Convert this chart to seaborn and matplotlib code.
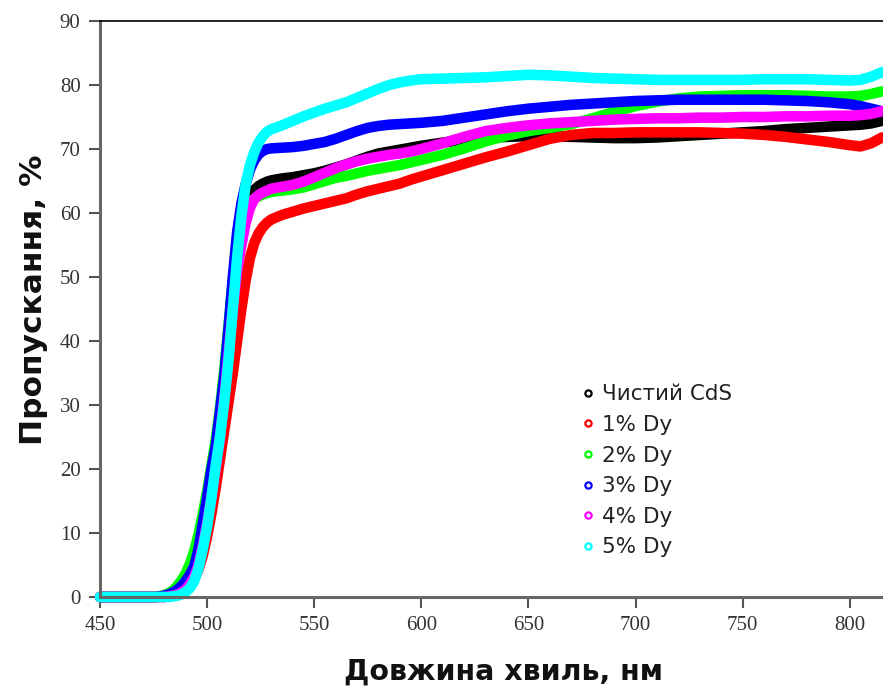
import numpy as np
import pandas as pd
import matplotlib
matplotlib.use("Agg")
import matplotlib.pyplot as plt
from matplotlib.lines import Line2D
import seaborn as sns

# ---------------- data ----------------
wavelength = [450, 460, 470, 476,
              480, 482, 484, 486, 488, 490, 492, 494, 496, 498, 500, 502, 504, 506, 508, 510,
              512, 514, 516, 518, 520, 522, 524, 526, 528, 530,
              535, 540, 545, 550, 555, 560, 565, 570, 575, 580, 585, 590, 595, 600,
              610, 620, 630, 640, 650, 660, 670, 680, 690, 700, 710, 720, 730, 740, 750,
              760, 770, 780, 790, 800, 805, 810, 815]

series_names = ["Чистий CdS", "1% Dy", "2% Dy", "3% Dy", "4% Dy", "5% Dy"]

t_pure = [0, 0, 0, 0,
          0.2, 0.4, 0.7, 1.2, 1.9, 2.8, 4.0, 5.8, 8.3, 11.5, 15.0, 19.0, 23.0, 28.0, 34.0, 41.0,
          48.5, 54.5, 58.5, 61.0, 62.6, 63.6, 64.2, 64.6, 64.9, 65.1,
          65.4, 65.6, 65.9, 66.2, 66.6, 67.1, 67.6, 68.2, 68.8, 69.3, 69.6, 69.9, 70.2, 70.5,
          71.0, 71.4, 71.7, 71.9, 72.0, 72.0, 71.9, 71.8, 71.7, 71.7, 71.8, 72.0, 72.2, 72.4, 72.6,
          72.8, 73.1, 73.3, 73.5, 73.7, 73.8, 74.0, 74.4]

t_dy1 = [0, 0, 0, 0,
         0.0, 0.1, 0.2, 0.4, 0.7, 1.1, 1.8, 2.8, 4.3, 6.5, 9.5, 13.0, 17.0, 21.5, 26.0, 30.5,
         35.0, 40.0, 45.0, 49.5, 53.0, 55.3, 56.8, 57.8, 58.5, 59.0,
         59.7, 60.2, 60.7, 61.1, 61.5, 61.9, 62.3, 62.9, 63.4, 63.8, 64.2, 64.6, 65.2, 65.7,
         66.7, 67.7, 68.7, 69.6, 70.6, 71.6, 72.2, 72.5, 72.5, 72.6, 72.6, 72.6, 72.6, 72.5, 72.4,
         72.2, 71.9, 71.5, 71.1, 70.6, 70.4, 70.9, 71.8]

t_dy2 = [0, 0, 0, 0,
         0.3, 0.6, 1.0, 1.7, 2.6, 3.7, 5.2, 7.2, 9.8, 13.0, 16.5, 20.5, 24.5, 29.5, 35.5, 42.5,
         49.5, 55.0, 58.5, 60.5, 61.6, 62.2, 62.6, 62.9, 63.1, 63.3,
         63.5, 63.7, 64.0, 64.5, 65.0, 65.5, 65.8, 66.2, 66.6, 66.9, 67.2, 67.5, 67.9, 68.3,
         69.1, 70.1, 71.2, 72.1, 72.8, 73.3, 73.9, 74.8, 75.8, 76.7, 77.4, 77.9, 78.2, 78.3, 78.4,
         78.4, 78.4, 78.3, 78.2, 78.2, 78.3, 78.6, 79.0]

t_dy3 = [0, 0, 0, 0,
         0.2, 0.4, 0.7, 1.1, 1.7, 2.5, 3.5, 4.8, 7.5, 11.5, 15.5, 20.0, 23.5, 29.0, 34.5, 42.0,
         50.0, 57.0, 61.5, 64.5, 66.8, 68.2, 69.2, 69.7, 70.0, 70.1,
         70.2, 70.3, 70.5, 70.8, 71.1, 71.6, 72.2, 72.8, 73.3, 73.6, 73.8, 73.9, 74.0, 74.1,
         74.4, 74.9, 75.4, 75.9, 76.3, 76.6, 76.9, 77.1, 77.3, 77.5, 77.6, 77.7, 77.7, 77.7, 77.7,
         77.7, 77.6, 77.5, 77.3, 77.0, 76.7, 76.3, 75.9]

t_dy4 = [0, 0, 0, 0,
         0.0, 0.1, 0.2, 0.4, 0.7, 1.2, 2.0, 3.2, 5.0, 8.0, 11.5, 15.5, 20.0, 25.0, 31.0, 38.0,
         45.0, 51.0, 55.0, 58.5, 60.8, 62.2, 62.8, 63.2, 63.5, 63.8,
         64.1, 64.4, 64.9, 65.6, 66.3, 67.0, 67.6, 68.1, 68.5, 68.8, 69.1, 69.3, 69.6, 70.0,
         70.9, 71.9, 72.8, 73.3, 73.7, 74.0, 74.2, 74.4, 74.6, 74.7, 74.8, 74.8, 74.9, 74.9, 75.0,
         75.0, 75.1, 75.1, 75.2, 75.2, 75.3, 75.5, 75.9]

t_dy5 = [0, 0, 0, 0,
         0.0, 0.0, 0.1, 0.2, 0.4, 0.8, 1.4, 2.5, 4.5, 7.5, 11.0, 15.5, 20.5, 25.0, 30.5, 37.0,
         45.0, 53.0, 59.5, 64.5, 67.5, 69.5, 71.0, 72.0, 72.7, 73.1,
         73.7, 74.4, 75.1, 75.7, 76.3, 76.8, 77.3, 78.0, 78.7, 79.4, 80.0, 80.4, 80.7, 80.9,
         81.0, 81.1, 81.2, 81.4, 81.6, 81.5, 81.3, 81.1, 81.0, 80.9, 80.8, 80.8, 80.8, 80.8, 80.8,
         80.9, 80.9, 80.9, 80.8, 80.7, 80.8, 81.3, 82.0]

series_values = [t_pure, t_dy1, t_dy2, t_dy3, t_dy4, t_dy5]
colors = ["#000000", "#FF0000", "#00FF00", "#0000FF", "#FF00FF", "#00FFFF"]

x_ticks = [450, 500, 550, 600, 650, 700, 750, 800]
y_ticks = [0, 10, 20, 30, 40, 50, 60, 70, 80, 90]

# ---------------- figure ----------------
sns.set_theme(style="ticks")
plt.rcParams["font.family"] = ["DejaVu Sans"]

df = pd.concat(
    [pd.DataFrame({"wl": wavelength, "T": vals, "series": name})
     for name, vals in zip(series_names, series_values)],
    ignore_index=True)

fig = plt.figure(figsize=(8.83, 6.9), dpi=100)
ax = fig.add_axes([100 / 883, 93 / 690, 783 / 883, 576 / 690])

sns.lineplot(data=df, x="wl", y="T", hue="series", hue_order=series_names,
             palette=dict(zip(series_names, colors)), estimator=None, sort=False,
             linewidth=7.6, legend=False, ax=ax)
for ln in ax.get_lines():
    ln.set_solid_capstyle("round")
    ln.set_solid_joinstyle("round")
    ln.set_clip_on(False)

ax.set_xlim(450, 815.5)
ax.set_ylim(0, 90)
ax.set_xticks(x_ticks)
ax.set_yticks(y_ticks)
ax.set_xticklabels([str(v) for v in x_ticks], fontfamily="Liberation Serif", fontsize=15, color="#333333")
ax.set_yticklabels([str(v) for v in y_ticks], fontfamily="Liberation Serif", fontsize=15, color="#333333")
ax.tick_params(axis="both", direction="out", length=8, width=1.5, color="#555555", pad=6)

for side in ["left", "bottom"]:
    ax.spines[side].set_color("#666666")
    ax.spines[side].set_linewidth(2.2)
ax.spines["top"].set_color("#000000")
ax.spines["top"].set_linewidth(1.2)
ax.spines["right"].set_visible(False)

ax.set_xlabel("Довжина хвиль, нм", fontfamily="DejaVu Sans", fontweight="bold", fontsize=20.5,
              color="#111111")
ax.set_ylabel("Пропускання, %", fontfamily="DejaVu Sans", fontweight="bold", fontsize=22.5,
              color="#111111")
ax.xaxis.set_label_coords(0.515, -0.106)
ax.yaxis.set_label_coords(-0.066, 0.516)

handles = [Line2D([], [], linestyle="none", marker="o", markersize=4.5, markeredgewidth=1.6,
                  markerfacecolor="none", markeredgecolor=c) for c in colors]
leg = ax.legend(handles, series_names, loc="upper left", bbox_to_anchor=(0.604, 0.384),
                frameon=False, fontsize=15.5, handlelength=0.6, handletextpad=0.35,
                labelspacing=0.49, borderpad=0.4, borderaxespad=0.0)
for t in leg.get_texts():
    t.set_color("#222222")

fig.savefig("out.png", dpi=100)
